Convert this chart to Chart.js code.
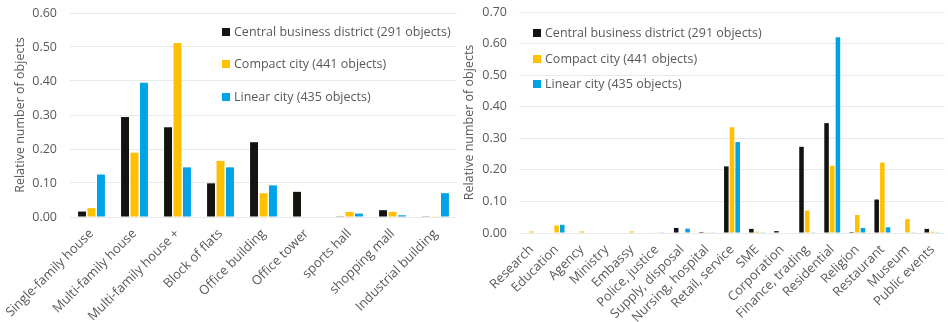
<!DOCTYPE html>
<html>
<head>
<meta charset="utf-8">
<script src="https://cdn.jsdelivr.net/npm/chart.js@4"></script>
<style>
  html, body { margin: 0; padding: 0; background: #fff; }
  body { width: 948px; height: 322px; position: relative; overflow: hidden; font-family: "Open Sans", sans-serif; }
  canvas { position: absolute; top: 0; }
  #left { left: 0; }
  #right { left: 462px; }
  .legend { position: absolute; font-size: 12.5px; color: #595959; }
  .legend div { position: absolute; white-space: nowrap; height: 18px; line-height: 18px; }
  .legend span { display: inline-block; width: 8px; height: 8px; margin-right: 4px; vertical-align: 0px; }
</style>
</head>
<body>
<canvas id="left" width="462" height="322"></canvas>
<canvas id="right" width="486" height="322"></canvas>
<div class="legend" id="legend-left" style="left:222px; top:0;"></div>
<div class="legend" id="legend-right" style="left:533px; top:0;"></div>
<script>
    // ── Data ─────────────────────────────────────────────────────────────────
    var seriesNames = ['Central business district (291 objects)', 'Compact city (441 objects)', 'Linear city (435 objects)'];
    var seriesColors = ['#15130f', '#ffc000', '#00a3e6'];

    var buildingTypes = ['Single-family house', 'Multi-family house', 'Multi-family house +', 'Block of flats',
        'Office building', 'Office tower', 'sports hall', 'shopping mall', 'Industrial building'];
    var buildingCbd     = [0.016, 0.294, 0.264, 0.099, 0.220, 0.074, 0.002, 0.020, 0.002];
    var buildingCompact = [0.026, 0.189, 0.512, 0.165, 0.070, 0, 0.015, 0.015, 0.001];
    var buildingLinear  = [0.125, 0.395, 0.146, 0.146, 0.093, 0, 0.010, 0.005, 0.070];
    var buildingTicks   = [0, 0.1, 0.2, 0.3, 0.4, 0.5, 0.6];

    var useTypes = ['Research', 'Education', 'Agency', 'Ministry', 'Embassy', 'Police, justice', 'Supply, disposal',
        'Nursing, hospital', 'Retail, service', 'SME', 'Corporation', 'Finance, trading', 'Residential',
        'Religion', 'Restaurant', 'Museum', 'Public events'];
    var useCbd     = [0, 0, 0, 0, 0, 0, 0.016, 0.003, 0.211, 0.013, 0.006, 0.273, 0.348, 0.003, 0.106, 0, 0.013];
    var useCompact = [0.005, 0.024, 0.005, 0, 0.005, 0.001, 0, 0.001, 0.335, 0.004, 0, 0.071, 0.213, 0.057, 0.223, 0.044, 0.004];
    var useLinear  = [0, 0.026, 0, 0, 0, 0.001, 0.014, 0.001, 0.288, 0.001, 0, 0.001, 0.620, 0.016, 0.018, 0.001, 0.001];
    var useTicks   = [0, 0.1, 0.2, 0.3, 0.4, 0.5, 0.6, 0.7];

    var TEXT = '#595959';
    var GRID = '#e9e9e9';
    var FONT = '"Open Sans", sans-serif';

    // ── Chart helper ─────────────────────────────────────────────────────────
    function makeChart(id, labels, values, ticks, opt) {
        var datasets = values.map(function (v, i) {
            return {
                label: seriesNames[i], data: v, backgroundColor: seriesColors[i],
                categoryPercentage: opt.cat, barPercentage: opt.bar
            };
        });
        return new Chart(document.getElementById(id), {
            type: 'bar',
            data: { labels: labels, datasets: datasets },
            options: {
                responsive: false,
                animation: false,
                devicePixelRatio: 1,
                layout: { padding: { top: opt.top, right: opt.right, left: 0, bottom: 0 } },
                plugins: { legend: { display: false }, tooltip: { enabled: false } },
                scales: {
                    x: {
                        grid: { display: false, drawTicks: false },
                        border: { display: false },
                        ticks: { color: TEXT, font: { family: FONT, size: 13 }, minRotation: 45, maxRotation: 45, padding: 9, autoSkip: false },
                        afterFit: function (s) { s.height = opt.xHeight; s.paddingLeft = 0; s.paddingRight = 0; }
                    },
                    y: {
                        min: 0, max: ticks[ticks.length - 1],
                        afterBuildTicks: function (s) { s.ticks = ticks.map(function (t) { return { value: t }; }); },
                        grid: { color: GRID, drawTicks: false },
                        border: { display: false },
                        ticks: {
                            color: TEXT, font: { family: FONT, size: 12.5 }, padding: opt.tickPad,
                            callback: function (v) { return Number(v).toFixed(2); }
                        },
                        title: {
                            display: true, text: 'Relative number of objects', color: TEXT,
                            font: { family: FONT, size: 12.5 }, padding: { top: opt.titlePad, bottom: 0 }
                        },
                        afterFit: function (s) { s.width = opt.yWidth; s.paddingTop = 0; s.paddingBottom = 0; }
                    }
                }
            }
        });
    }

    function makeLegend(id, rows) {
        var el = document.getElementById(id);
        seriesNames.forEach(function (name, i) {
            var d = document.createElement('div');
            d.style.top = (rows[i] - 9) + 'px';
            d.innerHTML = '<span style="background:' + seriesColors[i] + '"></span>' + name;
            el.appendChild(d);
        });
    }

    makeChart('left', buildingTypes, [buildingCbd, buildingCompact, buildingLinear], buildingTicks,
        { cat: 0.66, bar: 0.84, top: 13, right: 5, xHeight: 105, yWidth: 70, tickPad: 13, titlePad: 13 });
    makeChart('right', useTypes, [useCbd, useCompact, useLinear], useTicks,
        { cat: 0.68, bar: 0.8, top: 12, right: 3, xHeight: 89, yWidth: 57, tickPad: 12, titlePad: 0 });

    makeLegend('legend-left', [32, 64, 97]);
    makeLegend('legend-right', [33, 59, 84]);
</script>
</body>
</html>
